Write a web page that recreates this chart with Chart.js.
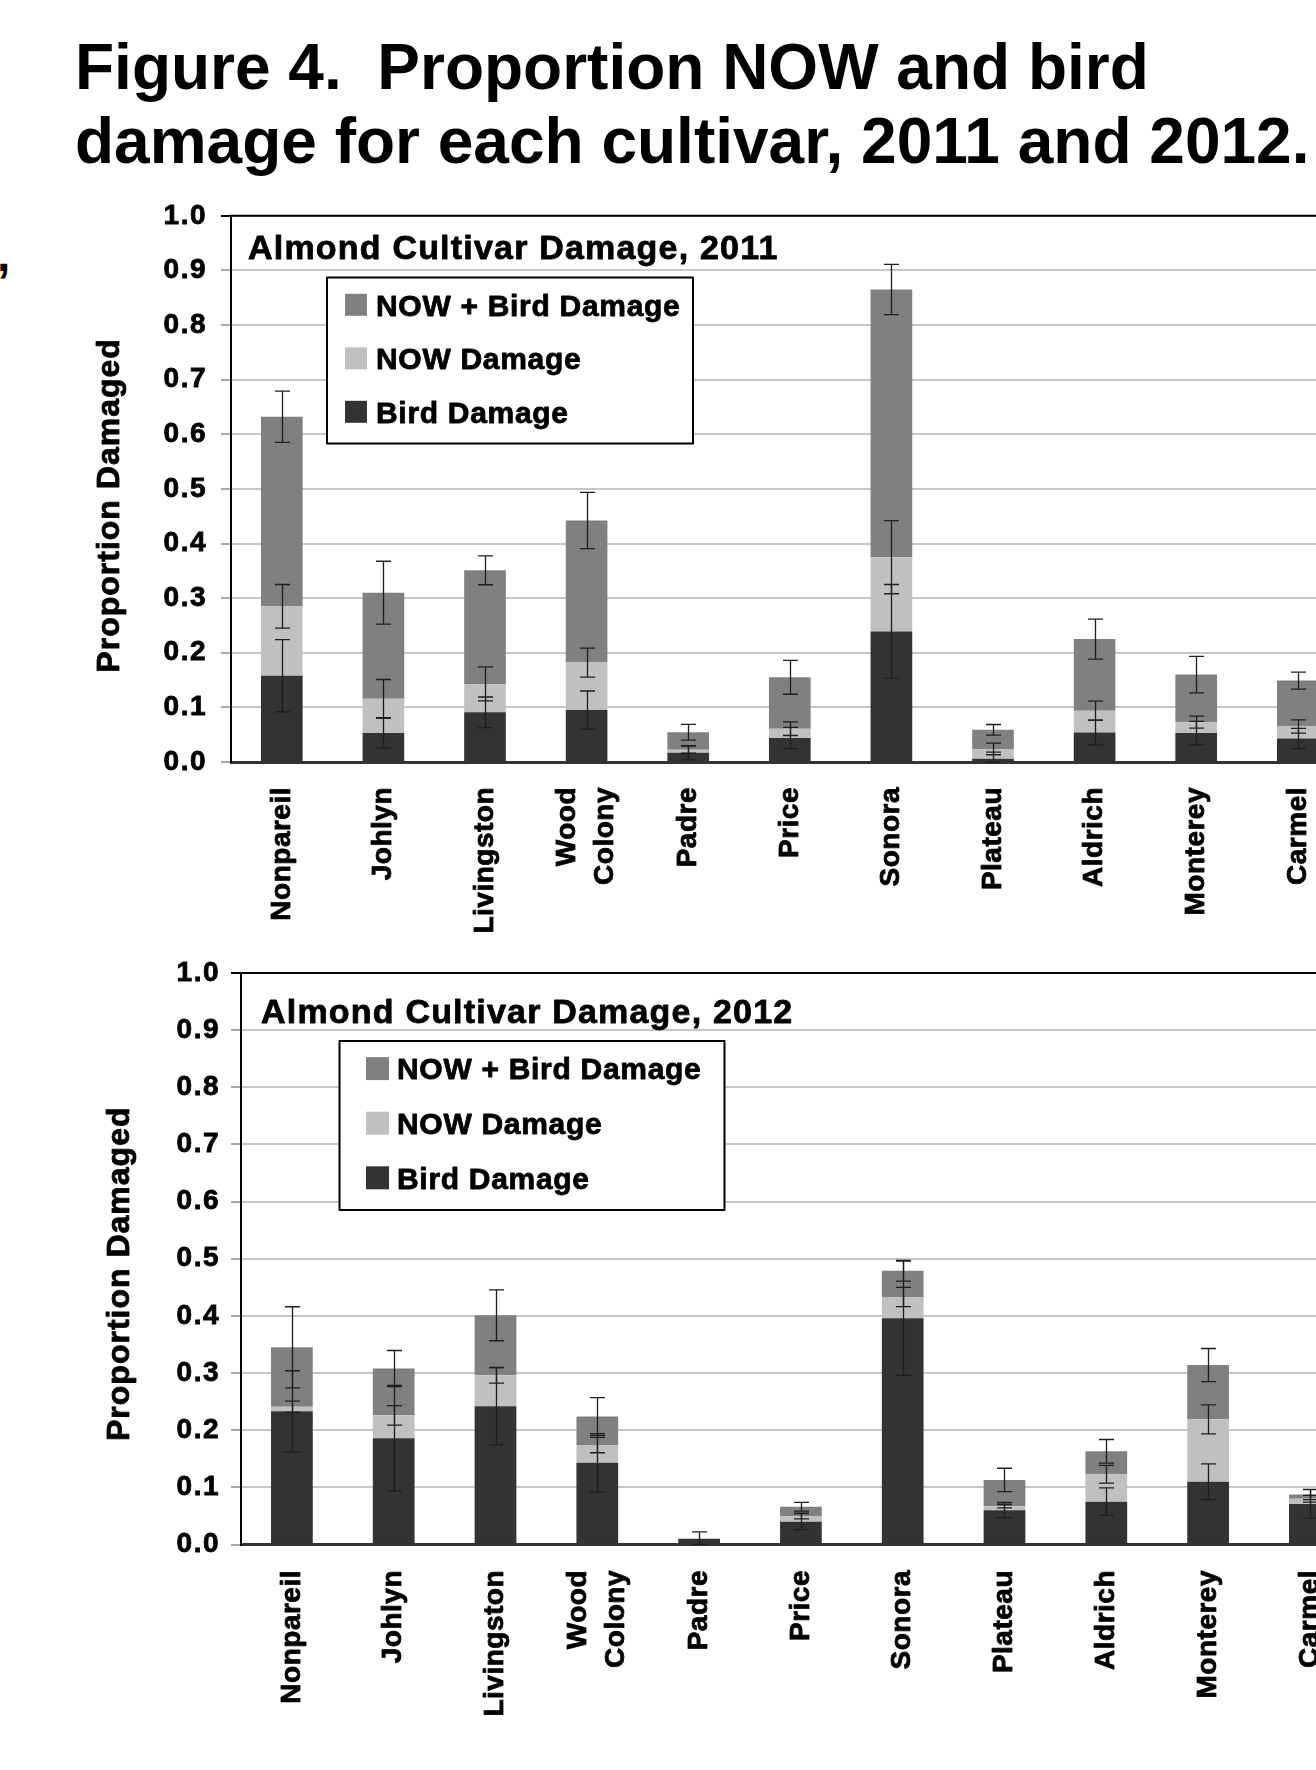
<!DOCTYPE html>
<html>
<head>
<meta charset="utf-8">
<script src="https://cdn.jsdelivr.net/npm/chart.js@4.4.1/dist/chart.umd.min.js"></script>
<style>
  html, body { margin: 0; padding: 0; width: 1316px; height: 1770px; overflow: hidden; background: #fff; }
  #fig-title {
    position: absolute; left: 75px; top: 30px; margin: 0;
    font: bold 64px/74px "Liberation Sans", Arial, sans-serif;
    white-space: pre; color: #000;
  }
  #edge-mark {
    position: absolute; left: -3px; top: 231px;
    font: bold 48px/48px "Liberation Sans", Arial, sans-serif; color: #000;
  }
  canvas { position: absolute; left: 0; }
  #c2011 { top: 185px; }
  #c2012 { top: 940px; }
</style>
</head>
<body>
<h1 id="fig-title">Figure 4.  Proportion NOW and bird
damage for each cultivar, 2011 and 2012.</h1>
<div id="edge-mark">,</div>
<canvas id="c2011" width="1400" height="755"></canvas>
<canvas id="c2012" width="1400" height="800"></canvas>
<script>
// ---- data ----------------------------------------------------------
const cultivars = ['Nonpareil', 'Johlyn', 'Livingston', ['Wood', 'Colony'], 'Padre', 'Price',
                   'Sonora', 'Plateau', 'Aldrich', 'Monterey', 'Carmel'];
const yTickLabels = ['0.0', '0.1', '0.2', '0.3', '0.4', '0.5', '0.6', '0.7', '0.8', '0.9', '1.0'];
const seriesNames = ['Bird Damage', 'NOW Damage', 'NOW + Bird Damage'];

// 2011: height of each stacked segment, and the +/- error at the top of each segment
const bird2011 = [0.158, 0.053, 0.091, 0.095, 0.017, 0.044, 0.239, 0.006, 0.054, 0.053, 0.043];
const now2011  = [0.127, 0.063, 0.052, 0.087, 0.0055, 0.017, 0.136, 0.018, 0.040, 0.020, 0.022];
const both2011 = [0.347, 0.194, 0.208, 0.260, 0.032, 0.094, 0.490, 0.035, 0.131, 0.087, 0.084];
const birdErr2011 = [0.066, 0.027, 0.028, 0.035, 0.013, 0.0195, 0.086, 0.012, 0.0225, 0.0215, 0.0185];
const nowErr2011  = [0.040, 0.035, 0.031, 0.0265, 0.0065, 0.0125, 0.067, 0.0107, 0.0175, 0.011, 0.012];
const bothErr2011 = [0.047, 0.0575, 0.0265, 0.0515, 0.0145, 0.031, 0.046, 0.0097, 0.0365, 0.0335, 0.0155];

// 2012
const bird2012 = [0.233, 0.186, 0.242, 0.143, 0.010, 0.040, 0.396, 0.060, 0.075, 0.110, 0.071];
const now2012  = [0.008, 0.040, 0.054, 0.031, 0, 0.010, 0.037, 0.007, 0.048, 0.109, 0.009];
const both2012 = [0.104, 0.082, 0.105, 0.050, 0, 0.016, 0.046, 0.046, 0.040, 0.095, 0.0075];
const birdErr2012 = [0.071, 0.0925, 0.0676, 0.051, 0.012, 0.014, 0.100, 0.0135, 0.024, 0.031, 0.025];
const nowErr2012  = [0.010, 0.017, 0.0137, 0.0135, null, 0.005, 0.0168, 0.003, 0.0155, 0.0253, 0.006];
const bothErr2012 = [0.071, 0.0315, 0.0445, 0.033, null, 0.0077, 0.018, 0.0204, 0.0207, 0.029, 0.009];

// ---- styling -------------------------------------------------------
const FONT = '"Liberation Sans", Arial, Helvetica, sans-serif';
const segmentColors = ['#333333', '#c0c0c0', '#808080'];
const TEXT_STROKE = 0.8;   // slight outline so the bold labels read heavier

// filled + outlined text, for the hand-placed labels
function heavyText(ctx, str, x, y) {
  ctx.lineWidth = TEXT_STROKE;
  ctx.lineJoin = 'round';
  ctx.strokeStyle = '#000';
  ctx.strokeText(str, x, y);
  ctx.fillText(str, x, y);
}

// Draws error bars, the plot frame, the in-plot title, the boxed legend,
// the rotated category labels and the vertical axis title.
const panelPlugin = {
  id: 'panel',
  beforeDraw(chart) {
    chart.ctx.letterSpacing = '1.5px';
  },
  afterDatasetsDraw(chart) {
    const { ctx, chartArea: a, scales: { x, y } } = chart;
    ctx.save();
    // error bars, centred on the cumulative top of every segment
    ctx.strokeStyle = '#1e1e1e';
    ctx.lineWidth = 1.3;
    const cum = new Array(chart.data.labels.length).fill(0);
    chart.data.datasets.forEach(ds => {
      ds.data.forEach((v, i) => {
        cum[i] += v;
        const e = ds.errorBars[i];
        if (e == null) return;
        const px = Math.round(x.getPixelForValue(i)) + 0.5;
        const yt = y.getPixelForValue(cum[i] + e);
        const yb = y.getPixelForValue(Math.max(cum[i] - e, 0));
        ctx.beginPath();
        ctx.moveTo(px, yt); ctx.lineTo(px, yb);
        ctx.moveTo(px - 7.5, yt); ctx.lineTo(px + 7.5, yt);
        ctx.moveTo(px - 7.5, yb); ctx.lineTo(px + 7.5, yb);
        ctx.stroke();
      });
    });
    // top and right edges of the plot frame
    ctx.strokeStyle = '#000';
    ctx.lineWidth = 2;
    ctx.beginPath();
    ctx.moveTo(a.left - 1, a.top);
    ctx.lineTo(a.right, a.top);
    ctx.lineTo(a.right, a.bottom);
    ctx.stroke();
    ctx.restore();
  },
  afterDraw(chart, args, opts) {
    const { ctx, chartArea: a, scales: { x } } = chart;
    ctx.save();
    ctx.fillStyle = '#000';

    // in-plot title
    ctx.font = `bold ${opts.titleSize}px ${FONT}`;
    ctx.letterSpacing = '1.2px';
    ctx.textAlign = 'left';
    ctx.textBaseline = 'alphabetic';
    heavyText(ctx, opts.title, a.left + opts.titleDx, a.top + opts.titleDy);

    // legend box, series listed top to bottom in reverse stacking order
    const lg = opts.legend;
    const bx = a.left + lg.dx, by = a.top + lg.dy;
    ctx.fillStyle = '#fff';
    ctx.fillRect(bx, by, lg.w, lg.h);
    ctx.strokeStyle = '#000';
    ctx.lineWidth = 2;
    ctx.strokeRect(bx, by, lg.w, lg.h);
    ctx.font = `bold ${lg.size}px ${FONT}`;
    ctx.letterSpacing = '0.7px';
    chart.data.datasets.slice().reverse().forEach((ds, k) => {
      const cy = by + lg.first + k * lg.step;
      ctx.fillStyle = ds.backgroundColor;
      ctx.fillRect(bx + lg.swatchX, cy - lg.sw / 2, lg.sw, lg.sw);
      ctx.fillStyle = '#000';
      heavyText(ctx, ds.label, bx + lg.textX, cy + 0.358 * lg.size);
    });

    // category labels, rotated to read upward, ending just below the axis
    ctx.font = `bold 28px ${FONT}`;
    ctx.letterSpacing = '0.5px';
    ctx.textAlign = 'right';
    ctx.textBaseline = 'middle';
    chart.data.labels.forEach((lab, i) => {
      const lines = Array.isArray(lab) ? lab : [lab];
      const px = x.getPixelForValue(i);
      ctx.save();
      ctx.translate(px, a.bottom + opts.labelGap);
      ctx.rotate(-Math.PI / 2);
      lines.forEach((t, j) => {
        heavyText(ctx, t, 0, (j - (lines.length - 1) / 2) * 38);
      });
      ctx.restore();
    });

    // vertical axis title
    ctx.font = `bold 32px ${FONT}`;
    ctx.letterSpacing = '1px';
    ctx.textAlign = 'center';
    ctx.textBaseline = 'alphabetic';
    ctx.translate(a.left - opts.yTitleDx, (a.top + a.bottom) / 2 + opts.yTitleDy);
    ctx.rotate(-Math.PI / 2);
    heavyText(ctx, 'Proportion Damaged', 0, 0);
    ctx.restore();
  }
};

function buildChart(id, series, errors, layout) {
  const datasets = series.map((values, k) => ({
    label: seriesNames[k],
    data: values,
    errorBars: errors[k],
    backgroundColor: segmentColors[k],
    borderWidth: 0
  }));
  return new Chart(document.getElementById(id), {
    type: 'bar',
    data: { labels: cultivars, datasets },
    plugins: [panelPlugin],
    options: {
      responsive: false,
      maintainAspectRatio: false,
      animation: false,
      devicePixelRatio: 1,
      layout: { padding: { left: 0, top: layout.top, right: layout.right, bottom: 0 } },
      datasets: { bar: { barPercentage: 0.41, categoryPercentage: 1 } },
      plugins: {
        legend: { display: false },
        tooltip: { enabled: false },
        panel: layout.panel
      },
      scales: {
        x: {
          stacked: true,
          grid: { display: false },
          border: { display: true, color: '#333333', width: 3 },
          ticks: { display: false },
          afterFit(s) { s.height = layout.xHeight; }
        },
        y: {
          stacked: true,
          min: 0,
          max: 1,
          ticks: {
            stepSize: 0.1,
            color: '#000',
            padding: layout.tickPad,
            textStrokeColor: '#000',
            textStrokeWidth: TEXT_STROKE,
            font: { family: FONT, size: 28, weight: 'bold' },
            callback: (v, i) => yTickLabels[i]
          },
          grid: {
            color: '#c6c6c6',
            lineWidth: 2,
            tickLength: 10,
            tickWidth: 2,
            tickColor: c => (c.tick && c.tick.value >= 0.999 ? '#000' : '#a8a8a8')
          },
          border: { display: true, color: '#000', width: 2 },
          afterFit(s) { s.width = layout.yWidth; }
        }
      }
    }
  });
}

buildChart('c2011', [bird2011, now2011, both2011], [birdErr2011, nowErr2011, bothErr2011], {
  top: 30, right: 51.4, xHeight: 178, yWidth: 231, tickPad: 14,
  panel: {
    title: 'Almond Cultivar Damage, 2011', titleSize: 34, titleDx: 17, titleDy: 43.5,
    legend: { dx: 96, dy: 61.6, w: 366, h: 166, swatchX: 18, sw: 22, textX: 49,
              first: 27.4, step: 53.5, size: 30 },
    labelGap: 25, yTitleDx: 112, yTitleDy: 16.5
  }
});

buildChart('c2012', [bird2012, now2012, both2012], [birdErr2012, nowErr2012, bothErr2012], {
  top: 33, right: 39.2, xHeight: 195.5, yWidth: 241, tickPad: 11,
  panel: {
    title: 'Almond Cultivar Damage, 2012', titleSize: 34, titleDx: 20, titleDy: 50,
    legend: { dx: 98.5, dy: 68, w: 385, h: 169, swatchX: 26.5, sw: 23, textX: 57.5,
              first: 27.6, step: 54.6, size: 30 },
    labelGap: 25.5, yTitleDx: 112, yTitleDy: 15
  }
});
</script>
</body>
</html>
